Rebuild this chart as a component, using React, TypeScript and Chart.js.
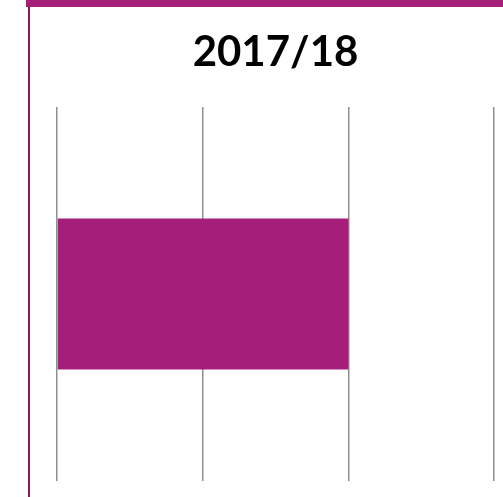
import React, { useEffect, useRef } from "react";
import { Chart, registerables } from "chart.js";

Chart.register(...registerables);

const categories = ["2017/18"];
const values = [2.0];
const xTicks = [0, 1, 2, 3];
const titleText = "2017/18";

export default function App() {
  const ref = useRef<HTMLCanvasElement | null>(null);
  useEffect(() => {
    if (!ref.current) return;
    const chart = new Chart(ref.current, {
      type: "bar",
      data: {
        labels: categories,
        datasets: [
          {
            data: values,
            backgroundColor: "#A51F7A",
            borderWidth: 0,
            categoryPercentage: 1,
            barPercentage: 0.404,
          },
        ],
      },
      options: {
        indexAxis: "y",
        animation: false,
        responsive: false,
        maintainAspectRatio: false,
        layout: { padding: { left: 57, right: 9, top: 0, bottom: 16 } },
        plugins: {
          legend: { display: false },
          tooltip: { enabled: false },
          title: {
            display: true,
            text: titleText,
            color: "#000",
            font: { family: "Lato", size: 42, weight: "bold", lineHeight: 1.2 },
            padding: { top: 27, bottom: 29.6 },
          },
        },
        scales: {
          x: {
            min: xTicks[0],
            max: xTicks[xTicks.length - 1],
            ticks: { display: false, stepSize: 1 },
            grid: { color: "#8f8f8f", lineWidth: 1.5, drawTicks: false },
            border: { display: false },
          },
          y: {
            ticks: { display: false },
            grid: { display: false, drawTicks: false },
            border: { display: false },
          },
        },
      },
    });
    return () => chart.destroy();
  }, []);
  return (
    <div style={{ position: "absolute", left: 0, top: 0, width: 503, height: 497, background: "#fff", overflow: "hidden" }}>
      <canvas ref={ref} width={503} height={497} style={{ position: "absolute", left: 0, top: 0 }} />
      <div style={{ position: "absolute", left: 26, top: 0, width: 477, height: 7, background: "#A51F7A" }} />
      <div style={{ position: "absolute", left: 28, top: 7, width: 2, height: 490, background: "#7E1A6C" }} />
    </div>
  );
}
